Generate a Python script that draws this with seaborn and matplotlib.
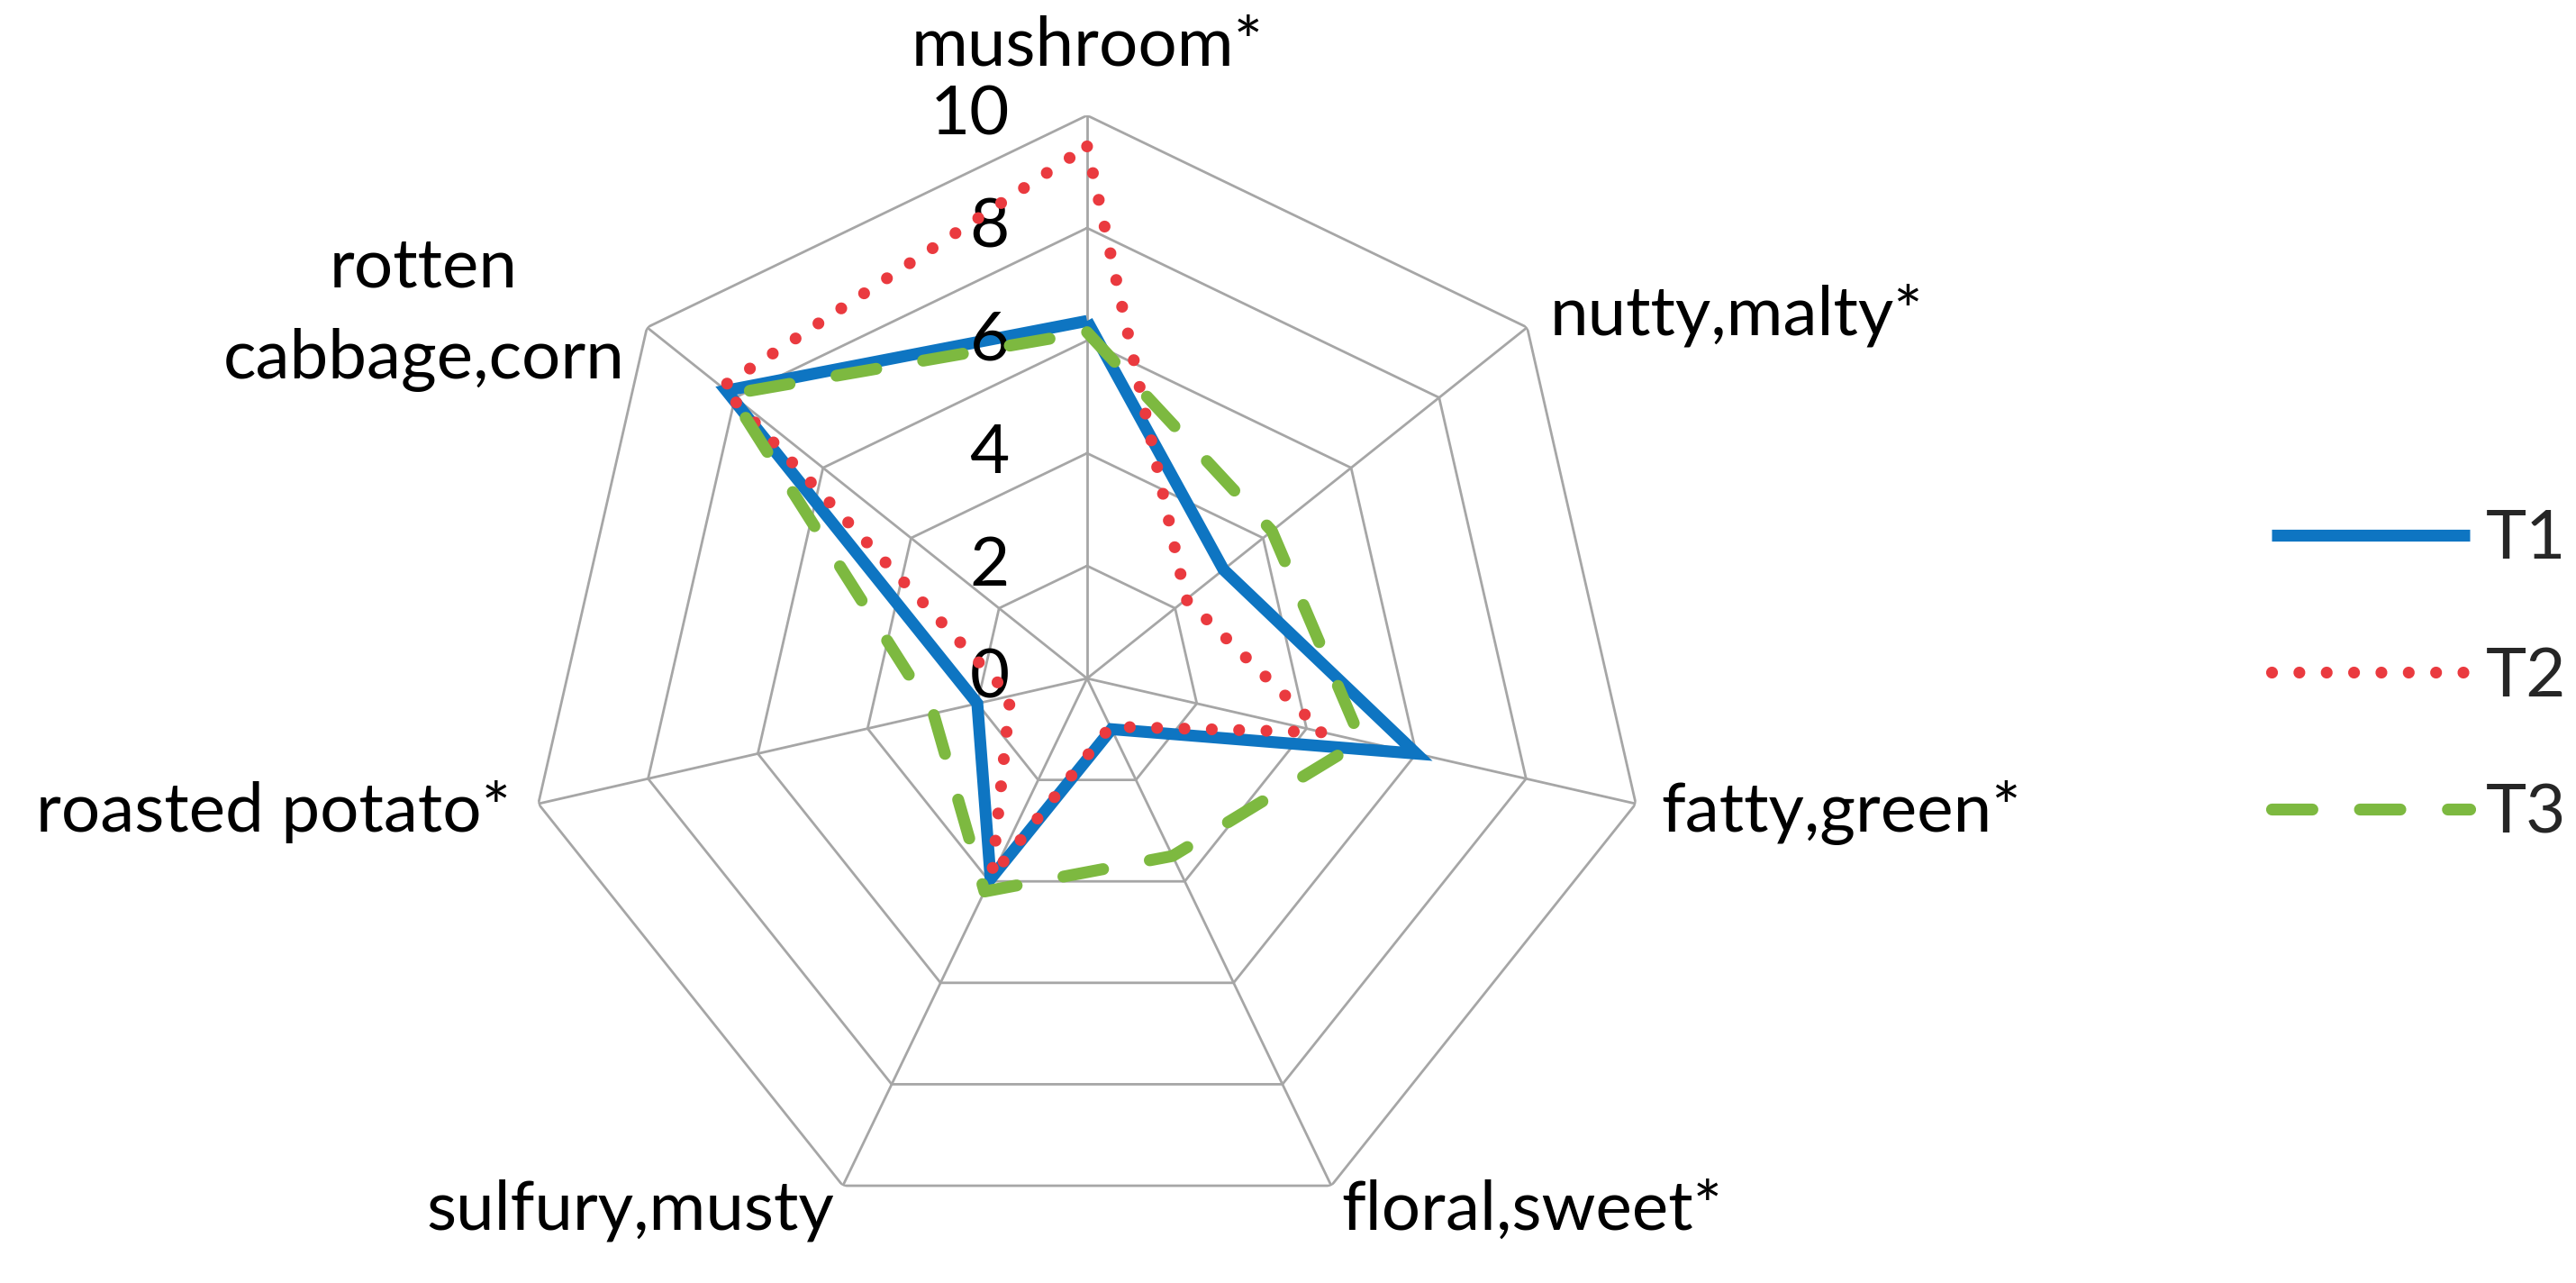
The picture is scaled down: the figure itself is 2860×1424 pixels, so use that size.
import numpy as np
import pandas as pd
import matplotlib
matplotlib.use("Agg")
import matplotlib.pyplot as plt
import seaborn as sns

# ---------------- data ----------------
categories = ["mushroom*", "nutty,malty*", "fatty,green*", "floral,sweet*",
              "sulfury,musty", "roasted potato*", "rotten\ncabbage,corn"]
series_names = ["T1", "T2", "T3"]
t1_values = [6.35, 3.1, 6.0, 1.0, 3.95, 2.0, 8.2]
t2_values = [9.45, 2.25, 4.3, 0.95, 3.9, 1.4, 8.3]
t3_values = [6.15, 4.2, 5.0, 3.5, 4.2, 2.8, 8.1]
grid_levels = [2, 4, 6, 8, 10]
tick_values = [0, 2, 4, 6, 8, 10]
tick_labels = ["0", "2", "4", "6", "8", "10"]

# ---------------- style ----------------
sns.set_style("white")
plt.rcParams["font.family"] = ["Lato", "DejaVu Sans"]

colors = {"T1": "#0E75C2", "T2": "#EA3A3F", "T3": "#7DB940"}
widths = {"T1": 9.5, "T2": 9.5, "T3": 9.5}
dashes = {"T1": "", "T2": (0.001, 2.3), "T3": (3.4, 4.0)}
grid_color = "#A6A6A6"
FS = 55

n = len(categories)
theta = np.linspace(0, 2 * np.pi, n, endpoint=False)

rows = []
for name, vals in zip(series_names, [t1_values, t2_values, t3_values]):
    for th, v in zip(list(theta) + [2 * np.pi], list(vals) + [vals[0]]):
        rows.append({"series": name, "theta": th, "value": v})
df = pd.DataFrame(rows)

fig = plt.figure(figsize=(28.6, 14.24), dpi=100)
ax = fig.add_axes([0.2035, 0.0323, 0.437, 0.8778], projection="polar")
ax.set_theta_zero_location("N")
ax.set_theta_direction(-1)
ax.set_ylim(0, 10)
ax.grid(False)
ax.spines["polar"].set_visible(False)
ax.set_xticks([])
ax.set_yticks([])
ax.patch.set_alpha(0)

# heptagon grid
for r in grid_levels:
    ax.plot(np.r_[theta, theta[0]], [r] * (n + 1), color=grid_color, lw=2.0, zorder=1)
for th in theta:
    ax.plot([th, th], [0, 10], color=grid_color, lw=2.0, zorder=1)

# data lines
sns.lineplot(data=df, x="theta", y="value", hue="series", style="series",
             hue_order=series_names, style_order=series_names,
             palette=colors, dashes=dashes, size="series", sizes=widths,
             estimator=None, sort=False, legend=False, ax=ax)
data_lines = ax.get_lines()[-3:]
for ln, name in zip(data_lines, series_names):
    ln.set_dash_capstyle("round")
    ln.set_solid_capstyle("round" if name != "T1" else "butt")
    ln.set_solid_joinstyle("miter")
    ln.set_dash_joinstyle("round")
    ln.set_zorder(3 + series_names.index(name))
ax.set_xlabel("")
ax.set_ylabel("")

# radial tick labels
for v, lbl in zip(tick_values, tick_labels):
    ax.annotate(lbl, xy=(0, v), xytext=(-62, 0), textcoords="offset points",
                ha="right", va="center", fontsize=FS, color="black")

# category labels
label_offsets = [(0, 40), (18, -6), (20, -22), (8, -35), (-7, -35), (-22, -22), (-18, -41)]
label_ha = ["center", "left", "left", "left", "right", "right", "right"]
for th, lbl, off, ha in zip(theta, categories, label_offsets, label_ha):
    ax.annotate(lbl, xy=(th, 10), xytext=off, textcoords="offset points",
                ha=ha, va="baseline", fontsize=FS, color="black",
                multialignment="center", linespacing=1.59, annotation_clip=False)

# legend
fig.legend(data_lines, series_names, loc="center left",
           bbox_to_anchor=(0.8818, 0.4726), frameon=False, fontsize=FS,
           handlelength=2.88, handletextpad=0.24, labelspacing=1.09,
           borderaxespad=0, borderpad=0)

fig.savefig("out.png", dpi=100, facecolor="white")
